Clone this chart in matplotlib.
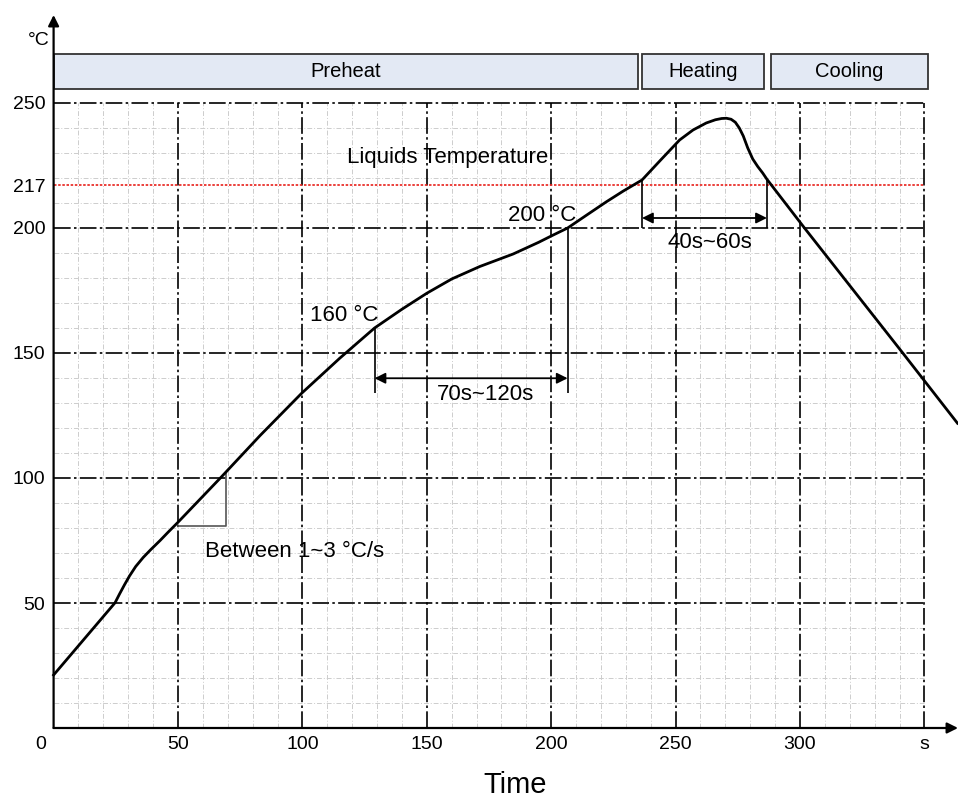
import numpy as np
import matplotlib
matplotlib.use('Agg')
import matplotlib.pyplot as plt
from matplotlib.patches import Rectangle
import matplotlib.transforms as mtransforms

plt.rcParams['font.family'] = ['Liberation Sans', 'DejaVu Sans']

# ---- data ----
time_s = [0, 24.7, 26.5, 28.5, 30.5, 33, 36, 39, 42.8, 46, 49.9, 67.5, 83, 99.7,
          115, 129, 140, 150, 160, 171.3, 184.7, 195, 200, 206.6, 214, 222.2, 229,
          236.5, 244, 251.6, 257, 262.3, 266, 268.5, 270.4, 272.3, 274, 275.6, 277.2,
          279, 281, 283, 285, 286.7, 301.8, 341.3, 363.3]
temp_c = [21.2, 50.1, 53.6, 57.3, 60.8, 64.6, 68.2, 71.3, 75.0, 78.3, 82.2, 100.5, 117, 133.9,
          147.9, 160, 167.5, 173.9, 179.6, 184.6, 189.6, 194.3, 196.8, 200, 205, 210.5, 214.8,
          219.2, 227.2, 235.2, 239.2, 242.0, 243.3, 243.8, 243.9, 243.5, 242.3, 240.0, 236.8,
          232.0, 227.6, 224.6, 222.0, 219.5, 200, 150, 121.9]

x_ticks = [0, 50, 100, 150, 200, 250, 300, 350]
x_tick_labels = ['0', '50', '100', '150', '200', '250', '300', 's']
y_ticks = [50, 100, 150, 200, 217, 250]
y_tick_labels = ['50', '100', '150', '200', '217', '250']
liquidus = 217
phases = ['Preheat', 'Heating', 'Cooling']
phase_start = [0, 236.3, 288.2]
phase_end = [234.7, 285.7, 351.3]
soak_window = (129, 206.6)      # 160 °C -> 200 °C, 70s~120s
reflow_window = (236.5, 286.7)  # above liquidus, 40s~60s
slope_run = (50, 69.3)

X_MAX, Y_MAX = 363.5, 285.2
GRID_X, GRID_Y = 350, 250

fig = plt.figure(figsize=(9.58, 7.99), dpi=100)
ax = fig.add_axes([53.6 / 958, 71 / 799, (958 - 53.6) / 958, 713 / 799])
ax.set_xlim(0, X_MAX)
ax.set_ylim(0, Y_MAX)
for s in ax.spines.values():
    s.set_visible(False)

# minor grid
for v in range(10, GRID_X + 1, 10):
    if v % 50:
        ax.vlines(v, 0, GRID_Y, color='#cdcdcd', lw=0.7, linestyle=(0, (5, 2, 1, 2)), zorder=1)
for h in range(10, GRID_Y + 1, 10):
    if h % 50:
        ax.hlines(h, 0, GRID_X, color='#cdcdcd', lw=0.7, linestyle=(0, (5, 2, 1, 2)), zorder=1)
# major grid
for v in range(50, GRID_X + 1, 50):
    ax.vlines(v, 0, GRID_Y, color='black', lw=1.2, linestyle=(0, (10, 2, 1.5, 2)), zorder=2)
for h in range(50, GRID_Y + 1, 50):
    ax.hlines(h, 0, GRID_X, color='black', lw=1.2, linestyle=(0, (10, 2, 1.5, 2)), zorder=2)

# liquidus line
ax.hlines(liquidus, 0, GRID_X, color='#e8201a', lw=1.2, linestyle=(0, (1.5, 1)), zorder=3)

# profile curve
ax.plot(time_s, temp_c, color='black', lw=2.0, zorder=6, clip_on=False,
        solid_joinstyle='round')

# axes arrows
arrow_kw = dict(arrowstyle='-|>', lw=1.6, color='black', mutation_scale=16, shrinkA=0, shrinkB=0)
ax.annotate('', xy=(1, 0), xytext=(0, 0), xycoords='axes fraction', arrowprops=arrow_kw, zorder=7)
ax.annotate('', xy=(0, 1), xytext=(0, 0), xycoords='axes fraction', arrowprops=arrow_kw, zorder=7)

# ticks
ax.set_xticks(x_ticks, x_tick_labels)
ax.set_yticks(y_ticks, y_tick_labels)
ax.tick_params(axis='both', length=0, labelsize=14)
ax.tick_params(axis='x', pad=6)
ax.tick_params(axis='y', pad=6)
lbl0 = ax.get_xticklabels()[0]
lbl0.set_transform(lbl0.get_transform() + mtransforms.ScaledTranslation(-0.13, 0, fig.dpi_scale_trans))
ax.text(-1.5, 275, '°C', ha='right', va='center', fontsize=14)

# phase header boxes
for name, s, e in zip(phases, phase_start, phase_end):
    ax.add_patch(Rectangle((s, 255.5), e - s, 14, facecolor='#e3e9f4', edgecolor='#333333',
                           lw=1.3, zorder=4, clip_on=False))
    ax.text((s + e) / 2, 262.5, name, ha='center', va='center', fontsize=14.5, zorder=5)

# soak window annotation
y160 = np.interp(soak_window[0], time_s, temp_c)
y200 = np.interp(soak_window[1], time_s, temp_c)
ax.vlines(soak_window[0], 133.9, y160, color='black', lw=1.2, zorder=5)
ax.vlines(soak_window[1], 133.9, y200, color='black', lw=1.2, zorder=5)
ax.annotate('', xy=(soak_window[1], 139.9), xytext=(soak_window[0], 139.9),
            arrowprops=dict(arrowstyle='<|-|>', color='black', lw=1.3, mutation_scale=16,
                            shrinkA=0, shrinkB=0), zorder=5)
ax.text(173.7, 133.5, '70s~120s', ha='center', va='center', fontsize=16)
ax.text(103, 164.8, '160 °C', ha='left', va='center', fontsize=16)
ax.text(182.6, 205, '200 °C', ha='left', va='center', fontsize=16)

# reflow window annotation
for xr in reflow_window:
    ax.vlines(xr, 200, np.interp(xr, time_s, temp_c), color='black', lw=1.2, zorder=5)
ax.annotate('', xy=(reflow_window[1], 204), xytext=(reflow_window[0], 204),
            arrowprops=dict(arrowstyle='<|-|>', color='black', lw=1.3, mutation_scale=16,
                            shrinkA=0, shrinkB=0), zorder=5)
ax.text(263.6, 194, '40s~60s', ha='center', va='center', fontsize=16)
ax.text(117.8, 228, 'Liquids Temperature', ha='left', va='center', fontsize=16)

# slope triangle
ys0 = np.interp(slope_run[0], time_s, temp_c)
ys1 = np.interp(slope_run[1], time_s, temp_c)
ax.plot([slope_run[0], slope_run[1], slope_run[1]], [ys0 - 1.5, ys0 - 1.5, ys1],
        color='#555555', lw=1.2, zorder=5)
ax.text(60.8, 70.5, 'Between 1~3 °C/s', ha='left', va='center', fontsize=16)

# x label
ax.set_xlabel('Time', fontsize=21)
ax.xaxis.label.set_va('center')
ax.xaxis.set_label_coords(185.4 / X_MAX, -0.08)

fig.savefig('out.png', dpi=100, facecolor='white')
